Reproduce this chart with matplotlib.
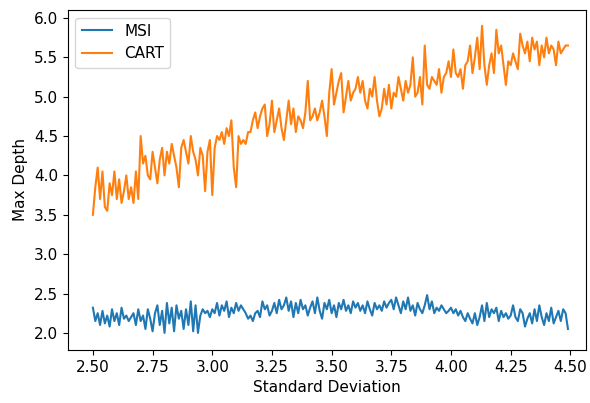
import numpy as np
import matplotlib
matplotlib.use("Agg")
import matplotlib.pyplot as plt

x_start = 2.50
x_step = 0.01

cart = [
    3.50, 3.85, 4.10, 3.70, 4.05, 3.60, 3.55, 3.90, 3.75, 4.05,
    3.70, 3.95, 3.65, 3.80, 4.00, 3.70, 3.85, 3.65, 4.05, 3.70,
    4.50, 4.15, 4.25, 4.00, 3.95, 4.30, 4.10, 3.90, 4.20, 4.35,
    4.00, 4.30, 4.15, 4.40, 4.25, 4.10, 3.85, 4.35, 4.45, 4.30,
    4.15, 4.50, 4.30, 4.20, 4.00, 4.35, 4.25, 3.80, 4.30, 4.45,
    3.75, 4.35, 4.50, 4.45, 4.55, 4.40, 4.60, 4.50, 4.70, 4.10,
    3.85, 4.50, 4.40, 4.45, 4.40, 4.55, 4.55, 4.70, 4.80, 4.60,
    4.75, 4.85, 4.90, 4.50, 4.65, 4.95, 4.55, 4.70, 4.85, 4.60,
    4.45, 4.70, 4.95, 4.65, 4.85, 4.55, 4.75, 4.70, 4.60, 4.80,
    5.20, 4.70, 4.75, 4.85, 4.70, 4.80, 4.95, 4.75, 4.50, 5.05,
    5.35, 4.90, 5.05, 5.20, 5.30, 4.80, 5.00, 5.20, 4.95, 5.05,
    5.10, 5.25, 5.05, 5.20, 4.95, 4.85, 5.10, 5.00, 5.25, 4.95,
    4.75, 4.85, 5.10, 4.90, 5.15, 4.85, 5.05, 5.00, 5.25, 5.10,
    4.95, 5.20, 5.05, 5.15, 5.50, 5.00, 5.05, 5.25, 4.90, 5.65,
    5.15, 5.10, 5.25, 5.20, 5.15, 5.35, 5.05, 5.25, 5.30, 5.45,
    5.25, 5.60, 5.30, 5.25, 5.35, 5.10, 5.40, 5.45, 5.65, 5.30,
    5.50, 5.75, 5.35, 5.90, 5.40, 5.15, 5.40, 5.55, 5.30, 5.85,
    5.55, 5.65, 5.40, 5.15, 5.45, 5.40, 5.55, 5.45, 5.35, 5.80,
    5.65, 5.55, 5.70, 5.45, 5.75, 5.60, 5.70, 5.40, 5.65, 5.50,
    5.75, 5.55, 5.65, 5.60, 5.40, 5.70, 5.55, 5.60, 5.65, 5.65,
]

msi = [
    2.32, 2.15, 2.25, 2.10, 2.28, 2.12, 2.22, 2.08, 2.30, 2.15,
    2.25, 2.10, 2.32, 2.18, 2.22, 2.15, 2.20, 2.25, 2.10, 2.30,
    2.15, 2.22, 2.05, 2.30, 2.18, 2.02, 2.25, 2.35, 2.10, 2.28,
    2.00, 2.38, 2.12, 2.32, 2.02, 2.35, 2.18, 2.28, 2.05, 2.30,
    2.10, 2.40, 2.02, 2.35, 2.00, 2.22, 2.30, 2.25, 2.28, 2.20,
    2.30, 2.25, 2.38, 2.22, 2.35, 2.28, 2.40, 2.20, 2.32, 2.25,
    2.38, 2.28, 2.35, 2.30, 2.25, 2.18, 2.22, 2.15, 2.25, 2.28,
    2.20, 2.40, 2.30, 2.35, 2.22, 2.28, 2.38, 2.25, 2.42, 2.30,
    2.35, 2.45, 2.28, 2.40, 2.20, 2.38, 2.25, 2.42, 2.30, 2.35,
    2.22, 2.32, 2.40, 2.25, 2.45, 2.28, 2.18, 2.38, 2.30, 2.42,
    2.25, 2.35, 2.20, 2.38, 2.30, 2.42, 2.28, 2.35, 2.25, 2.40,
    2.32, 2.38, 2.28, 2.35, 2.25, 2.40, 2.30, 2.22, 2.38, 2.30,
    2.35, 2.28, 2.40, 2.32, 2.38, 2.42, 2.30, 2.45, 2.35, 2.25,
    2.40, 2.30, 2.45, 2.28, 2.35, 2.22, 2.38, 2.30, 2.25, 2.35,
    2.48, 2.30, 2.40, 2.25, 2.32, 2.28, 2.35, 2.30, 2.25, 2.28,
    2.32, 2.25, 2.30, 2.22, 2.28, 2.20, 2.15, 2.25, 2.18, 2.12,
    2.25, 2.10, 2.20, 2.35, 2.15, 2.38, 2.20, 2.30, 2.25, 2.32,
    2.15, 2.28, 2.20, 2.25, 2.18, 2.22, 2.35, 2.20, 2.15, 2.30,
    2.25, 2.08, 2.18, 2.25, 2.12, 2.30, 2.15, 2.35, 2.20, 2.10,
    2.25, 2.15, 2.32, 2.12, 2.20, 2.28, 2.15, 2.30, 2.25, 2.05,
]

x = x_start + x_step * np.arange(len(cart))

plt.rcParams["font.size"] = 11
fig = plt.figure(figsize=(5.9, 4.03), dpi=100)
ax = fig.add_axes([0.115, 0.132, 0.878, 0.843])
ax.plot(x, msi, color="#1f77b4", lw=1.5, label="MSI")
ax.plot(x, cart, color="#ff7f0e", lw=1.5, label="CART")
ax.set_xlim(2.395, 4.565)
ax.set_ylim(1.785, 6.10)
ax.set_xticks([2.50, 2.75, 3.00, 3.25, 3.50, 3.75, 4.00, 4.25, 4.50])
ax.set_yticks([2.0, 2.5, 3.0, 3.5, 4.0, 4.5, 5.0, 5.5, 6.0])
ax.tick_params(labelsize=11)
ax.set_xlabel("Standard Deviation", fontsize=11)
ax.set_ylabel("Max Depth", fontsize=11)
ax.legend(loc="upper left", fontsize=11)
fig.savefig("out.png", dpi=100)
